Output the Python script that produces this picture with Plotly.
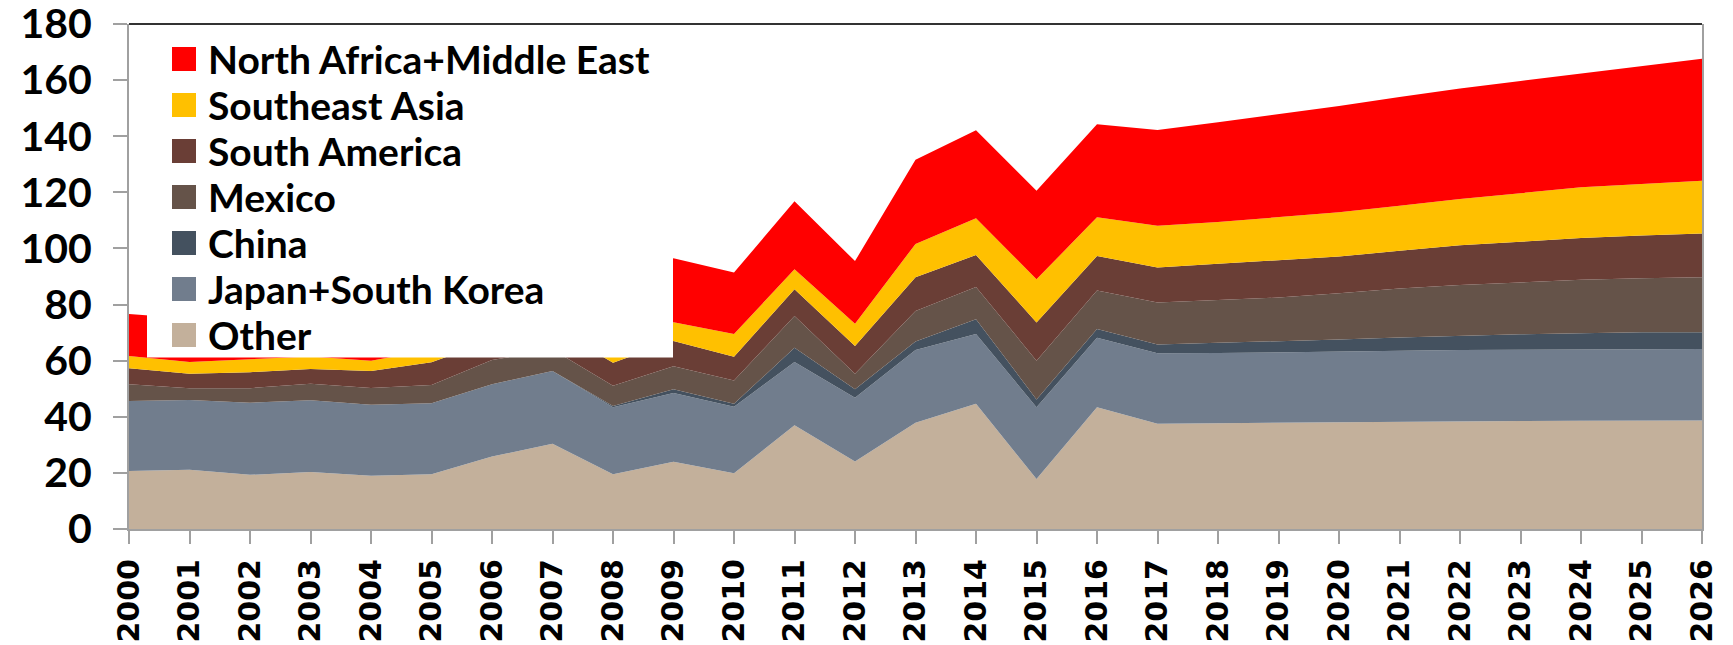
import plotly.graph_objects as go

years = list(range(2000, 2027))

other = [20.7, 21.1, 19.3, 20.3, 19.0, 19.5, 25.8, 30.4, 19.5, 24.0, 19.9, 37.0, 24.1, 37.9,
         44.6, 17.8, 43.4, 37.5, 37.7, 37.9, 38.1, 38.3, 38.4, 38.5, 38.6, 38.6, 38.7]
japan_korea = [24.9, 24.9, 25.7, 25.6, 25.3, 25.3, 25.8, 25.9, 23.9, 24.5, 23.7, 22.5, 22.7, 25.9,
               24.9, 25.6, 24.8, 25.1, 25.0, 25.1, 25.2, 25.3, 25.4, 25.4, 25.4, 25.6, 25.5]
china = [0.0, 0.0, 0.0, 0.0, 0.0, 0.0, 0.0, 0.0, 0.4, 1.3, 1.0, 5.1, 3.0, 3.0,
         5.3, 2.8, 3.1, 3.2, 3.7, 3.9, 4.2, 4.7, 5.1, 5.5, 5.8, 5.9, 5.9]
mexico = [6.0, 4.2, 5.2, 5.9, 6.0, 6.5, 8.6, 7.7, 7.3, 8.2, 8.3, 11.3, 5.5, 10.9,
          11.5, 13.8, 13.7, 14.9, 15.2, 15.6, 16.5, 17.4, 18.1, 18.5, 19.0, 19.3, 19.6]
south_america = [5.7, 5.1, 5.7, 5.2, 6.0, 8.1, 7.0, 8.0, 8.2, 9.0, 8.5, 9.6, 9.9, 12.0,
                 11.4, 13.6, 12.3, 12.5, 12.9, 13.2, 13.1, 13.5, 14.1, 14.5, 14.9, 15.2, 15.6]
southeast_asia = [4.4, 4.2, 4.6, 4.5, 3.7, 4.5, 5.0, 5.0, 5.0, 6.7, 8.1, 7.1, 8.0, 11.9,
                  13.1, 15.4, 13.8, 14.9, 14.9, 15.4, 15.8, 16.0, 16.5, 17.3, 18.1, 18.4, 18.8]
na_middle_east = [14.9, 15.5, 16.0, 17.0, 17.5, 18.5, 18.0, 19.0, 20.0, 22.8, 21.9, 24.2, 22.3, 30.0,
                  31.3, 31.6, 33.2, 34.1, 35.6, 36.7, 37.9, 38.8, 39.4, 40.0, 40.6, 42.1, 43.5]

series_names = ["Other", "Japan+South Korea", "China", "Mexico", "South America",
                "Southeast Asia", "North Africa+Middle East"]
series_values = [other, japan_korea, china, mexico, south_america, southeast_asia, na_middle_east]
series_colors = ["#C3B09B", "#717D8D", "#44515F", "#655349", "#6A3E36", "#FFC000", "#FF0000"]

y_ticks = list(range(0, 181, 20))

# plot-area geometry in pixels
W, H = 1733, 645
L, R, T, B = 129, 31, 24, 116
PW, PH = W - L - R, H - T - B


def px(x):
    return (x - L) / PW


def py(y):
    return 1 - (y - T) / PH


fig = go.Figure()
for name, vals, col in zip(series_names, series_values, series_colors):
    fig.add_trace(go.Scatter(
        x=years, y=vals, name=name, stackgroup="one", mode="lines",
        line=dict(width=0, color=col), fillcolor=col, showlegend=False,
    ))

shapes = []
annotations = []
# white legend box
shapes.append(dict(type="rect", xref="paper", yref="paper", layer="above",
                   x0=px(147), x1=px(673), y0=py(357.5), y1=1.0,
                   fillcolor="white", line=dict(width=0)))
# top border
shapes.append(dict(type="line", xref="paper", yref="paper", layer="above",
                   x0=0, x1=1, y0=1, y1=1, line=dict(color="#333333", width=2)))

# manual legend
legend_order = list(range(len(series_names)))[::-1]
for i, idx in enumerate(legend_order):
    yc = 59 + 46 * i
    shapes.append(dict(type="rect", xref="paper", yref="paper", layer="above",
                       x0=px(172), x1=px(196), y0=py(yc + 12), y1=py(yc - 12),
                       fillcolor=series_colors[idx], line=dict(width=0)))
    annotations.append(dict(xref="paper", yref="paper", x=px(206), y=py(yc),
                            xanchor="left", yanchor="middle", showarrow=False,
                            text=series_names[idx],
                            font=dict(family="Lato", size=39, color="black", weight="bold")))

fig.update_layout(
    width=W, height=H,
    margin=dict(l=L, r=R, t=T, b=B, autoexpand=False),
    paper_bgcolor="white", plot_bgcolor="white",
    shapes=shapes, annotations=annotations,
    showlegend=False,
    xaxis=dict(
        range=[2000, 2026], tickmode="array", tickvals=years, ticktext=[str(y) for y in years],
        tickangle=-90, ticks="outside", ticklen=13, tickwidth=2, tickcolor="#A0A0A0",
        showline=True, linecolor="#A0A0A0", linewidth=2, showgrid=False, zeroline=False,
        tickfont=dict(family="DejaVu Sans", size=30, color="black", weight="bold"),
        automargin=False, ticklabelstandoff=3, ticklabeloverflow="allow",
    ),
    yaxis=dict(
        range=[0, 180], tickmode="array", tickvals=y_ticks, ticktext=[str(v) for v in y_ticks],
        ticks="outside", ticklen=14, tickwidth=2, tickcolor="#A0A0A0",
        showline=True, linecolor="#A0A0A0", linewidth=2, mirror=True,
        showgrid=False, zeroline=False,
        tickfont=dict(family="Lato", size=41, color="black", weight="bold"),
        automargin=False, ticklabelstandoff=13, ticklabeloverflow="allow",
    ),
)

fig.write_html("out.html", config={"displayModeBar": False},
               post_script="document.body.style.margin='0px';document.body.style.overflow='hidden';")
